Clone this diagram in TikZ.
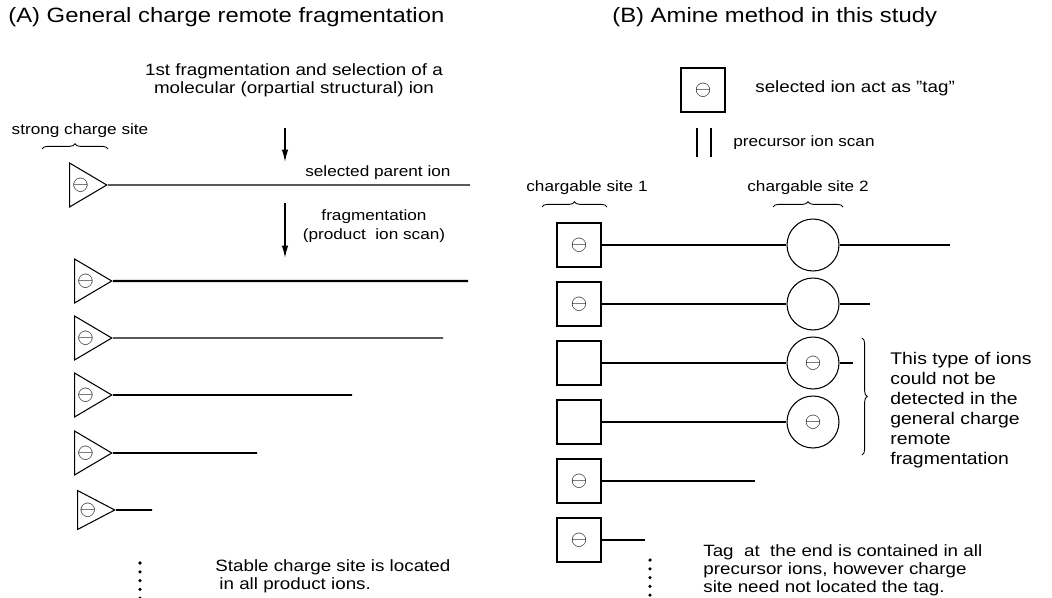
\documentclass[tikz,border=0pt]{standalone}
\usepackage{fontspec}
\setmainfont{Liberation Sans}[FakeStretch=1.15]
\usetikzlibrary{arrows.meta,positioning,calc,decorations.pathreplacing,shapes.geometric}

\begin{document}
\begin{tikzpicture}[x=0.02cm, y=-0.02cm,
  ion/.style={draw, isosceles triangle, isosceles triangle stretches,
    minimum width=0.88cm, minimum height=0.74cm, inner sep=0.5pt,
    anchor=west, line width=0.6pt, font=\fontsize{12.5}{12.5}\selectfont},
  tagbox/.style={draw, minimum size=0.88cm, inner sep=0pt, line width=0.6pt,
    font=\fontsize{12.5}{12.5}\selectfont},
  site/.style={draw, circle, minimum size=1.04cm, inner sep=0pt, line width=0.6pt,
    font=\fontsize{12.5}{12.5}\selectfont},
  ttl/.style={font=\fontsize{11.8}{14}\selectfont, inner sep=0pt},
  note/.style={font=\fontsize{9.3}{10.2}\selectfont, inner sep=0pt},
  lbl/.style={font=\fontsize{8.5}{10}\selectfont, inner sep=0pt},
  brc/.style={decorate, decoration={brace, amplitude=3pt}, line width=0.5pt},
  arr/.style={-{Latex[length=7pt, width=3.6pt]}, line width=0.7pt},
  chain/.style={line width=0.9pt},
  fine/.style={line width=0.6pt},
  heavy/.style={line width=1.4pt},
  vdots/.style={line width=2pt, line cap=round, dash pattern=on 0pt off 5pt}]
\useasboundingbox (0,0) rectangle (1052,598);

% (A) charge remote fragmentation
\node[ttl, anchor=west] (titleA) at (8,17) {(A) General charge remote fragmentation};
\node[note, align=center] (first) at (294,80) {1st fragmentation and selection of a\\molecular (orpartial structural) ion};
\node[lbl] (strong) at (80,131) {strong charge site};
\coordinate (bA1) at (42,149);
\coordinate (bA2) at (108,149);
\draw[brc] (bA1) -- (bA2);

\node[ion] (parent) at (69,185) {$\ominus$};
\coordinate (parentEnd) at (470,185);
\draw[fine] (parent.apex) -- (parentEnd);
\node[lbl, anchor=west] (parentlbl) at (305,173) {selected parent ion};

\coordinate (a1s) at (285,128);
\coordinate (a1e) at (285,162);
\draw[arr] (a1s) -- (a1e);
\coordinate (a2s) at (285,203);
\coordinate (a2e) at (285,258);
\draw[arr] (a2s) -- (a2e);
\node[lbl, align=center] (fraglbl) at (374,226) {fragmentation\\[1pt](product\ \ ion scan)};

% product ions
\node[ion] (p1) at (74,281) {$\ominus$};
\coordinate (p1e) at (468,281);
\draw[heavy] (p1.apex) -- (p1e);
\node[ion] (p2) at (74,338) {$\ominus$};
\coordinate (p2e) at (443,338);
\draw[fine] (p2.apex) -- (p2e);
\node[ion] (p3) at (74,395) {$\ominus$};
\coordinate (p3e) at (352,395);
\draw[chain] (p3.apex) -- (p3e);
\node[ion] (p4) at (74,453) {$\ominus$};
\coordinate (p4e) at (257,453);
\draw[chain] (p4.apex) -- (p4e);
\node[ion, minimum width=0.78cm, minimum height=0.72cm] (p5) at (77,510) {$\ominus$};
\coordinate (p5e) at (152,510);
\draw[chain] (p5.apex) -- (p5e);

\coordinate (dA1) at (140,563);
\coordinate (dA2) at (140,600);
\draw[vdots] (dA1) -- (dA2);
\node[note, anchor=west, align=left] (stable) at (215,576) {Stable charge site is located\\\hspace{0.25em}in all product ions.};

% (B) amine method
\node[ttl, anchor=west] (titleB) at (612,17) {(B) Amine method in this study};
\node[tagbox] (tag) at (703,90) {$\ominus$};
\node[note, anchor=west] (taglbl) at (755,88) {selected ion act as "tag"};
\coordinate (s1a) at (697,128);
\coordinate (s1b) at (697,157);
\coordinate (s2a) at (711,128);
\coordinate (s2b) at (711,157);
\draw[fine] (s1a) -- (s1b);
\draw[fine] (s2a) -- (s2b);
\node[lbl, anchor=west] (scanlbl) at (733,143) {precursor ion scan};

\node[lbl] (site1lbl) at (587,188) {chargable site 1};
\node[lbl] (site2lbl) at (808,188) {chargable site 2};
\coordinate (bB1) at (542,207);
\coordinate (bB2) at (607,207);
\draw[brc] (bB1) -- (bB2);
\coordinate (bC1) at (773,207);
\coordinate (bC2) at (843,207);
\draw[brc] (bC1) -- (bC2);

\node[tagbox] (r1a) at (579,245) {$\ominus$};
\node[site] (r1b) at (813,245) {};
\coordinate (r1e) at (950,245);
\draw[chain] (r1a) -- (r1b);
\draw[chain] (r1b) -- (r1e);

\node[tagbox] (r2a) at (579,304) {$\ominus$};
\node[site] (r2b) at (813,304) {};
\coordinate (r2e) at (870,304);
\draw[chain] (r2a) -- (r2b);
\draw[chain] (r2b) -- (r2e);

\node[tagbox] (r3a) at (579,363) {};
\node[site] (r3b) at (813,363) {$\ominus$};
\coordinate (r3e) at (853,363);
\draw[fine] (r3a) -- (r3b);
\draw[fine] (r3b) -- (r3e);

\node[tagbox] (r4a) at (579,422) {};
\node[site] (r4b) at (813,422) {$\ominus$};
\draw[chain] (r4a) -- (r4b);

\node[tagbox] (r5a) at (579,481) {$\ominus$};
\coordinate (r5e) at (755,481);
\draw[fine] (r5a) -- (r5e);

\node[tagbox] (r6a) at (579,540) {$\ominus$};
\coordinate (r6e) at (645,540);
\draw[chain] (r6a) -- (r6e);

\coordinate (bD1) at (862,338);
\coordinate (bD2) at (862,455);
\draw[brc] (bD1) -- (bD2);
\node[note, anchor=west, align=left, font=\fontsize{9.6}{11.4}\selectfont] (undetect) at (890,410) {This type of ions\\could not be\\detected in the\\general charge\\remote\\fragmentation};

\coordinate (dB1) at (650,560);
\coordinate (dB2) at (650,600);
\draw[vdots] (dB1) -- (dB2);
\node[note, anchor=west, align=left] (tagnote) at (703,570) {Tag\ \ at\ \ the end is contained in all\\precursor ions, however charge\\site need not located the tag.};
\end{tikzpicture}
\end{document}
